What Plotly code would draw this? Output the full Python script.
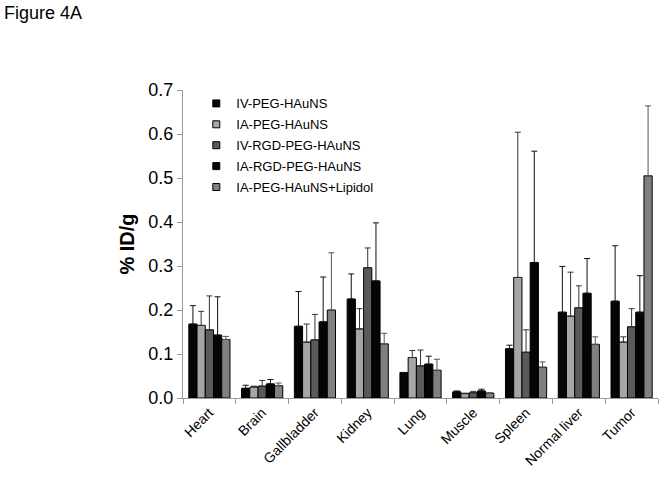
import plotly.graph_objects as go

categories = ["Heart", "Brain", "Gallbladder", "Kidney", "Lung", "Muscle", "Spleen", "Normal liver", "Tumor"]
series_names = ["IV-PEG-HAuNS", "IA-PEG-HAuNS", "IV-RGD-PEG-HAuNS", "IA-RGD-PEG-HAuNS", "IA-PEG-HAuNS+Lipidol"]

iv_peg = [0.168, 0.022, 0.163, 0.225, 0.058, 0.014, 0.112, 0.195, 0.220]
iv_peg_sd = [0.042, 0.007, 0.079, 0.057, 0.000, 0.002, 0.008, 0.104, 0.126]
ia_peg = [0.165, 0.025, 0.127, 0.157, 0.092, 0.010, 0.274, 0.186, 0.127]
ia_peg_sd = [0.032, 0.002, 0.041, 0.046, 0.016, 0.001, 0.330, 0.100, 0.012]
iv_rgd = [0.155, 0.027, 0.132, 0.296, 0.073, 0.012, 0.104, 0.205, 0.162]
iv_rgd_sd = [0.077, 0.013, 0.058, 0.045, 0.036, 0.003, 0.051, 0.050, 0.041]
ia_rgd = [0.143, 0.032, 0.173, 0.266, 0.077, 0.016, 0.308, 0.238, 0.195]
ia_rgd_sd = [0.087, 0.010, 0.102, 0.132, 0.018, 0.004, 0.253, 0.079, 0.083]
ia_lip = [0.133, 0.028, 0.200, 0.123, 0.063, 0.011, 0.070, 0.122, 0.505]
ia_lip_sd = [0.007, 0.006, 0.130, 0.024, 0.025, 0.001, 0.012, 0.017, 0.159]

values = [iv_peg, ia_peg, iv_rgd, ia_rgd, ia_lip]
sds = [iv_peg_sd, ia_peg_sd, iv_rgd_sd, ia_rgd_sd, ia_lip_sd]
colors = ["#050505", "#a6a6a6", "#5a5a5a", "#050505", "#808080"]
err_colors = ["#111111", "#333333", "#333333", "#111111", "#555555"]

fig = go.Figure()
for name, v, s, c, ec in zip(series_names, values, sds, colors, err_colors):
    fig.add_trace(go.Bar(
        name=name, x=categories, y=v, showlegend=False,
        marker=dict(color=c, line=dict(color="#000000", width=1)),
        error_y=dict(type="data", array=s, symmetric=False, arrayminus=[0]*len(s),
                     color=ec, thickness=1, width=3),
    ))
# legend entries with small square swatches
for name, c in zip(series_names, colors):
    fig.add_trace(go.Scatter(
        name=name, x=[None], y=[None], mode="markers",
        marker=dict(symbol="square", size=7, color=c, line=dict(color="#000000", width=1)),
        showlegend=True, legendgroup=name,
    ))

fig.update_layout(
    width=664, height=479,
    paper_bgcolor="white", plot_bgcolor="white",
    margin=dict(l=183, r=6, t=90, b=81, autoexpand=False),
    barmode="group", bargap=0.22, bargroupgap=0,
    font=dict(family="Liberation Sans, Arial", color="#000000"),
    showlegend=True,
    legend=dict(x=0.028, y=1.005, xanchor="left", yanchor="top",
                font=dict(size=13, family="Liberation Sans, Arial"),
                bgcolor="rgba(0,0,0,0)", tracegroupgap=1, itemwidth=30),
    xaxis=dict(showline=True, linecolor="#9a9a9a", linewidth=1,
               ticks="outside", tickson="boundaries", ticklen=5, tickcolor="#9a9a9a",
               tickangle=-45, tickfont=dict(size=14), showgrid=False),
    yaxis=dict(range=[0, 0.7], dtick=0.1, tickformat=".1f",
               showline=True, linecolor="#9a9a9a", linewidth=1,
               ticks="outside", ticklen=5, tickcolor="#9a9a9a",
               tickfont=dict(size=18), showgrid=False, zeroline=False,
               title=dict(text="<b>% ID/g</b>", font=dict(size=20), standoff=8)),
)
fig.add_annotation(text="Figure 4A", xref="paper", yref="paper",
                   x=(2 - 183) / 475, y=(398 - 13) / 308, xanchor="left", yanchor="middle",
                   showarrow=False, font=dict(size=18))

fig.write_html("out.html", post_script="document.body.style.margin='0';",
               config={"displayModeBar": False})
